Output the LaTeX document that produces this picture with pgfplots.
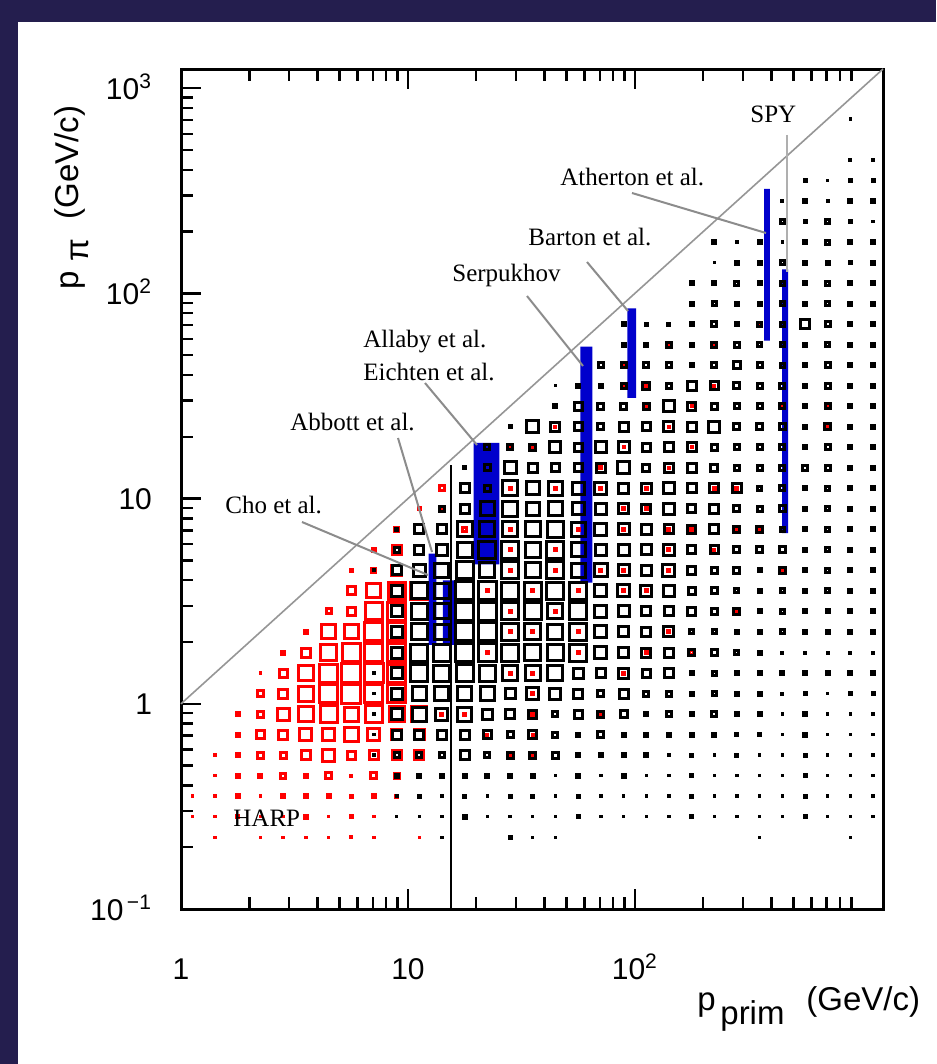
\documentclass[border=0pt]{standalone}
\usepackage{pgfplots}
\usepackage{pgfplotstable}
\pgfplotsset{compat=1.18}
\usepackage{fontspec}
\setmainfont{Liberation Sans}
\newfontfamily\tms{Liberation Serif}

\definecolor{frame}{RGB}{36,30,78}
\definecolor{harp}{RGB}{255,0,0}
\definecolor{expbar}{RGB}{0,0,204}
\definecolor{guide}{RGB}{140,140,140}
\definecolor{diag}{RGB}{150,150,150}

% 2D histograms: bin i covers 10^(i/10) .. 10^((i+1)/10) GeV/c in p_prim,
% bin j the same in p_pi; s = box side in px (0.5pt)
\pgfplotstableread[row sep=\\]{
i j s\\
29 28 3\\
29 26 4\\ 30 26 4\\
27 25 5\\ 28 25 3\\ 29 25 5\\ 30 25 5\\
26 24 4\\ 27 24 6\\ 28 24 4\\ 29 24 6\\ 30 24 6\\
26 23 7\\ 27 23 5\\ 28 23 7\\ 29 23 5\\ 30 23 3\\
23 22 6\\ 24 22 3\\ 25 22 6\\ 26 22 3\\ 27 22 6\\ 28 22 7\\ 29 22 6\\ 30 22 6\\
23 21 3\\ 24 21 6\\ 25 21 6\\ 26 21 7\\ 27 21 6\\ 28 21 6\\ 29 21 5\\ 30 21 6\\
22 20 6\\ 23 20 6\\ 24 20 7\\ 25 20 6\\ 26 20 7\\ 27 20 6\\ 28 20 7\\ 29 20 6\\ 30 20 6\\
22 19 6\\ 23 19 7\\ 24 19 6\\ 25 19 6\\ 26 19 7\\ 27 19 6\\ 28 19 7\\ 29 19 6\\ 30 19 6\\
19 18 6\\ 20 18 5\\ 21 18 5\\ 22 18 6\\ 23 18 8\\ 24 18 6\\ 25 18 7\\ 26 18 7\\ 27 18 12\\ 28 18 8\\ 29 18 6\\ 30 18 6\\
19 17 6\\ 20 17 6\\ 21 17 8\\ 22 17 6\\ 23 17 8\\ 24 17 8\\ 25 17 7\\ 26 17 7\\ 27 17 6\\ 28 17 7\\ 29 17 6\\ 30 17 6\\
18 16 8\\ 19 16 8\\ 20 16 8\\ 21 16 8\\ 22 16 6\\ 23 16 8\\ 24 16 10\\ 25 16 8\\ 26 16 7\\ 27 16 6\\ 28 16 8\\ 29 16 6\\ 30 16 6\\
16 15 3\\ 17 15 6\\ 18 15 6\\ 19 15 8\\ 20 15 10\\ 21 15 8\\ 22 15 12\\ 23 15 11\\ 24 15 9\\ 25 15 8\\ 26 15 8\\ 27 15 6\\ 28 15 8\\ 29 15 6\\ 30 15 6\\
16 14 6\\ 17 14 11\\ 18 14 9\\ 19 14 9\\ 20 14 9\\ 21 14 14\\ 22 14 11\\ 23 14 9\\ 24 14 8\\ 25 14 8\\ 26 14 8\\ 27 14 6\\ 28 14 8\\ 29 14 6\\ 30 14 6\\
14 13 5\\ 15 13 15\\ 16 13 12\\ 17 13 11\\ 18 13 9\\ 19 13 12\\ 20 13 11\\ 21 13 13\\ 22 13 12\\ 23 13 14\\ 24 13 9\\ 25 13 9\\ 26 13 9\\ 27 13 6\\ 28 13 9\\ 29 13 6\\ 30 13 6\\
13 12 8\\ 14 12 8\\ 15 12 9\\ 16 12 14\\ 17 12 11\\ 18 12 14\\ 19 12 14\\ 20 12 11\\ 21 12 12\\ 22 12 12\\ 23 12 9\\ 24 12 8\\ 25 12 8\\ 26 12 8\\ 27 12 6\\ 28 12 8\\ 29 12 6\\ 30 12 6\\
12 11 5\\ 13 11 9\\ 14 11 15\\ 15 11 12\\ 16 11 11\\ 17 11 11\\ 18 11 12\\ 19 11 15\\ 20 11 10\\ 21 11 12\\ 22 11 12\\ 23 11 10\\ 24 11 8\\ 25 11 8\\ 26 11 8\\ 27 11 8\\ 28 11 8\\ 29 11 6\\ 30 11 6\\
12 10 12\\ 13 10 9\\ 14 10 18\\ 15 10 16\\ 16 10 17\\ 17 10 15\\ 18 10 15\\ 19 10 13\\ 20 10 13\\ 21 10 14\\ 22 10 12\\ 23 10 12\\ 24 10 12\\ 25 10 7\\ 26 10 8\\ 27 10 6\\ 28 10 7\\ 29 10 6\\ 30 10 6\\
11 9 8\\ 12 9 12\\ 13 9 17\\ 14 9 18\\ 15 9 16\\ 16 9 17\\ 17 9 15\\ 18 9 14\\ 19 9 13\\ 20 9 12\\ 21 9 14\\ 22 9 11\\ 23 9 12\\ 24 9 9\\ 25 9 8\\ 26 9 9\\ 27 9 6\\ 28 9 7\\ 29 9 6\\ 30 9 6\\
9 8 5\\ 10 8 12\\ 11 8 12\\ 12 8 18\\ 13 8 18\\ 14 8 18\\ 15 8 18\\ 16 8 19\\ 17 8 17\\ 18 8 15\\ 19 8 14\\ 20 8 13\\ 21 8 12\\ 22 8 11\\ 23 8 12\\ 24 8 9\\ 25 8 9\\ 26 8 7\\ 27 8 6\\ 28 8 7\\ 29 8 6\\ 30 8 6\\
9 7 8\\ 10 7 12\\ 11 7 14\\ 12 7 18\\ 13 7 20\\ 14 7 20\\ 15 7 18\\ 16 7 20\\ 17 7 17\\ 18 7 14\\ 19 7 14\\ 20 7 13\\ 21 7 14\\ 22 7 11\\ 23 7 11\\ 24 7 9\\ 25 7 9\\ 26 7 9\\ 27 7 6\\ 28 7 7\\ 29 7 6\\ 30 7 6\\
8 6 4\\ 9 6 12\\ 10 6 15\\ 11 6 17\\ 12 6 20\\ 13 6 18\\ 14 6 20\\ 15 6 18\\ 16 6 20\\ 17 6 17\\ 18 6 16\\ 19 6 14\\ 20 6 13\\ 21 6 15\\ 22 6 11\\ 23 6 9\\ 24 6 9\\ 25 6 6\\ 26 6 9\\ 27 6 6\\ 28 6 7\\ 29 6 6\\ 30 6 6\\
9 5 14\\ 10 5 19\\ 11 5 18\\ 12 5 21\\ 13 5 21\\ 14 5 20\\ 15 5 20\\ 16 5 20\\ 17 5 20\\ 18 5 15\\ 19 5 15\\ 20 5 14\\ 21 5 14\\ 22 5 10\\ 23 5 9\\ 24 5 7\\ 25 5 6\\ 26 5 7\\ 27 5 6\\ 28 5 7\\ 29 5 6\\ 30 5 6\\
9 4 14\\ 10 4 19\\ 11 4 18\\ 12 4 21\\ 13 4 21\\ 14 4 20\\ 15 4 20\\ 16 4 18\\ 17 4 20\\ 18 4 15\\ 19 4 14\\ 20 4 12\\ 21 4 12\\ 22 4 11\\ 23 4 9\\ 24 4 9\\ 25 4 6\\ 26 4 7\\ 27 4 6\\ 28 4 6\\ 29 4 6\\ 30 4 6\\
9 3 14\\ 10 3 19\\ 11 3 18\\ 12 3 21\\ 13 3 21\\ 14 3 20\\ 15 3 19\\ 16 3 18\\ 17 3 20\\ 18 3 15\\ 19 3 13\\ 20 3 12\\ 21 3 13\\ 22 3 7\\ 23 3 7\\ 24 3 6\\ 25 3 6\\ 26 3 7\\ 27 3 6\\ 28 3 6\\ 29 3 6\\ 30 3 6\\
9 2 14\\ 10 2 20\\ 11 2 20\\ 12 2 21\\ 13 2 21\\ 14 2 20\\ 15 2 19\\ 16 2 19\\ 17 2 20\\ 18 2 15\\ 19 2 13\\ 20 2 12\\ 21 2 12\\ 22 2 9\\ 23 2 9\\ 24 2 7\\ 25 2 6\\ 26 2 4\\ 27 2 4\\ 28 2 4\\ 29 2 4\\ 30 2 4\\
8 1 3\\ 9 1 14\\ 10 1 20\\ 11 1 19\\ 12 1 20\\ 13 1 19\\ 14 1 18\\ 15 1 18\\ 16 1 18\\ 17 1 13\\ 18 1 12\\ 19 1 13\\ 20 1 11\\ 21 1 12\\ 22 1 6\\ 23 1 7\\ 24 1 6\\ 25 1 6\\ 26 1 6\\ 27 1 6\\ 28 1 6\\ 29 1 6\\ 30 1 6\\
8 0 3\\ 9 0 14\\ 10 0 17\\ 11 0 17\\ 12 0 17\\ 13 0 17\\ 14 0 13\\ 15 0 15\\ 16 0 14\\ 17 0 12\\ 18 0 9\\ 19 0 12\\ 20 0 8\\ 21 0 8\\ 22 0 6\\ 23 0 7\\ 24 0 6\\ 25 0 6\\ 26 0 4\\ 27 0 5\\ 28 0 3\\ 29 0 5\\ 30 0 5\\
8 -1 3\\ 9 -1 14\\ 10 -1 17\\ 11 -1 15\\ 12 -1 17\\ 13 -1 13\\ 14 -1 12\\ 15 -1 11\\ 16 -1 8\\ 17 -1 11\\ 18 -1 9\\ 19 -1 10\\ 20 -1 6\\ 21 -1 8\\ 22 -1 6\\ 23 -1 8\\ 24 -1 6\\ 25 -1 6\\ 26 -1 3\\ 27 -1 6\\ 28 -1 3\\ 29 -1 3\\ 30 -1 3\\
8 -2 3\\ 9 -2 12\\ 10 -2 12\\ 11 -2 12\\ 12 -2 12\\ 13 -2 11\\ 14 -2 9\\ 15 -2 11\\ 16 -2 8\\ 17 -2 6\\ 18 -2 9\\ 19 -2 6\\ 20 -2 6\\ 21 -2 6\\ 22 -2 6\\ 23 -2 6\\ 24 -2 5\\ 25 -2 5\\ 26 -2 3\\ 27 -2 6\\ 28 -2 3\\ 29 -2 3\\ 30 -2 3\\
8 -3 3\\ 9 -3 8\\ 10 -3 8\\ 11 -3 8\\ 12 -3 12\\ 13 -3 8\\ 14 -3 9\\ 15 -3 9\\ 16 -3 9\\ 17 -3 6\\ 18 -3 6\\ 19 -3 6\\ 20 -3 6\\ 21 -3 3\\ 22 -3 5\\ 23 -3 3\\ 24 -3 5\\ 25 -3 3\\ 26 -3 3\\ 27 -3 5\\ 28 -3 3\\ 29 -3 3\\ 30 -3 3\\
9 -4 6\\ 10 -4 6\\ 11 -4 6\\ 12 -4 6\\ 13 -4 6\\ 14 -4 6\\ 15 -4 6\\ 16 -4 3\\ 17 -4 6\\ 18 -4 3\\ 19 -4 6\\ 20 -4 3\\ 21 -4 3\\ 22 -4 5\\ 23 -4 3\\ 24 -4 3\\ 25 -4 3\\ 26 -4 3\\ 27 -4 5\\ 28 -4 3\\ 29 -4 3\\ 30 -4 3\\
9 -5 4\\ 10 -5 5\\ 11 -5 3\\ 12 -5 5\\ 13 -5 3\\ 14 -5 5\\ 15 -5 5\\ 16 -5 3\\ 17 -5 5\\ 18 -5 3\\ 19 -5 3\\ 20 -5 3\\ 21 -5 3\\ 22 -5 5\\ 23 -5 3\\ 24 -5 3\\ 25 -5 3\\ 26 -5 3\\ 27 -5 5\\ 28 -5 3\\ 29 -5 3\\ 30 -5 3\\
9 -6 3\\ 10 -6 3\\ 11 -6 3\\ 12 -6 6\\ 13 -6 3\\ 14 -6 3\\ 15 -6 3\\ 16 -6 3\\ 17 -6 5\\ 18 -6 3\\ 19 -6 3\\ 20 -6 3\\ 21 -6 3\\ 22 -6 5\\ 23 -6 3\\ 24 -6 3\\ 25 -6 3\\ 26 -6 3\\ 27 -6 5\\ 28 -6 3\\ 29 -6 3\\ 30 -6 3\\
11 -7 3\\ 14 -7 5\\ 15 -7 3\\ 16 -7 3\\ 25 -7 3\\ 29 -7 3\\
}\allbins

\pgfplotstableread[row sep=\\]{
i j s\\
11 10 8\\
10 9 5\\ 11 9 6\\
9 8 7\\
8 7 6\\ 9 7 12\\
7 6 5\\ 8 6 7\\ 9 6 13\\
7 5 11\\ 8 5 17\\ 9 5 20\\ 10 5 20\\
6 4 8\\ 7 4 11\\ 8 4 20\\ 9 4 21\\
5 3 6\\ 6 3 17\\ 7 3 17\\ 8 3 21\\ 9 3 21\\
4 2 6\\ 5 2 12\\ 6 2 19\\ 7 2 21\\ 8 2 21\\ 9 2 21\\
3 1 3\\ 4 1 11\\ 5 1 18\\ 6 1 21\\ 7 1 22\\ 8 1 22\\ 9 1 21\\
3 0 9\\ 4 0 12\\ 5 0 18\\ 6 0 21\\ 7 0 22\\ 8 0 21\\ 9 0 21\\
2 -1 6\\ 3 -1 9\\ 4 -1 15\\ 5 -1 18\\ 6 -1 20\\ 7 -1 17\\ 8 -1 20\\ 9 -1 18\\ 10 -1 18\\
2 -2 6\\ 3 -2 11\\ 4 -2 12\\ 5 -2 15\\ 6 -2 15\\ 7 -2 17\\ 8 -2 15\\ 9 -2 13\\ 10 -2 13\\
1 -3 2\\ 2 -3 6\\ 3 -3 9\\ 4 -3 9\\ 5 -3 12\\ 6 -3 15\\ 7 -3 11\\ 8 -3 12\\ 9 -3 12\\ 10 -3 12\\
1 -4 2\\ 2 -4 6\\ 3 -4 6\\ 4 -4 8\\ 5 -4 6\\ 6 -4 9\\ 7 -4 4\\ 8 -4 9\\ 9 -4 8\\
0 -5 3\\ 1 -5 2\\ 2 -5 6\\ 3 -5 3\\ 4 -5 6\\ 5 -5 6\\ 6 -5 6\\ 7 -5 5\\ 8 -5 6\\ 9 -5 5\\ 10 -5 5\\
0 -6 3\\ 1 -6 2\\ 2 -6 5\\ 3 -6 3\\ 4 -6 3\\ 5 -6 6\\ 6 -6 3\\ 7 -6 5\\ 8 -6 3\\ 11 -6 3\\
1 -7 2\\ 3 -7 3\\ 4 -7 3\\ 5 -7 3\\ 6 -7 3\\ 7 -7 4\\ 8 -7 3\\ 10 -7 3\\
25 18 4\\ 21 17 4\\ 23 17 4\\ 19 16 4\\
19 15 4\\ 20 15 4\\ 23 15 4\\
20 14 4\\ 22 14 4\\ 26 14 4\\ 28 14 4\\
16 13 4\\ 21 13 4\\ 28 13 4\\
14 12 4\\ 15 12 4\\ 19 12 4\\ 22 12 4\\
18 11 5\\ 21 11 4\\
14 10 5\\ 16 10 5\\ 18 10 5\\ 20 10 5\\ 23 10 5\\ 24 10 5\\
19 9 5\\ 20 9 5\\
12 8 7\\ 14 8 5\\ 17 8 5\\ 19 8 5\\ 21 8 5\\ 22 8 5\\ 24 8 4\\ 25 8 4\\
14 7 5\\ 16 7 5\\ 21 7 5\\ 23 7 4\\
14 6 5\\ 16 6 5\\ 18 6 5\\ 19 6 5\\ 21 6 5\\ 26 6 4\\
13 5 5\\ 15 5 5\\ 17 5 5\\ 19 5 5\\ 20 5 5\\
14 4 5\\ 16 4 5\\ 24 4 4\\
14 3 5\\ 15 3 5\\ 17 3 5\\ 21 3 5\\
13 2 5\\ 17 2 5\\ 20 2 5\\ 22 2 7\\
14 1 5\\ 15 1 5\\ 19 1 5\\
15 0 5\\
11 -1 5\\ 12 -1 5\\ 15 -1 5\\ 18 -1 4\\
13 -2 4\\ 15 -2 4\\
14 -3 3\\ 15 -3 3\\
}\harpbins

\pgfplotsset{
  binboxes/.style={
    scatter, only marks, mark=square, line width=1.5pt,
    point meta={\thisrow{s}},
    scatter/use mapped color={draw=#1},
    visualization depends on={max(\thisrow{s}-3,0.4)/4 \as \halfside},
    scatter/@pre marker code/.append style={/tikz/mark size=\halfside pt},
  },
}

\begin{document}
\begin{tikzpicture}
% page frame, drawn in pixel units measured from the top left corner
\begin{scope}[x=0.5pt,y=-0.5pt]
\fill[frame] (0,0) rectangle (936,1064);
\fill[white] (18,22) rectangle (936,1064);
\end{scope}

\begin{axis}[
  at={(90.5pt,-454.5pt)}, anchor=south west,
  scale only axis, width=351pt, height=420pt,
  xmode=log, ymode=log,
  xmin=1, xmax=1240, ymin=0.1, ymax=1240,
  axis line style={line width=1.5pt},
  tick style={black, line width=1.2pt},
  major tick length=10pt, minor tick length=6pt,
  xtick={1,10,100},
  xticklabels={1,10,10\textsuperscript{2}},
  minor xtick={2,3,4,5,6,7,8,9,20,30,40,50,60,70,80,90,200,300,400,500,600,700,800,900},
  ytick={0.1,1,10,100,1000},
  yticklabels={10\textsuperscript{\,−1},1,10,10\textsuperscript{2},10\textsuperscript{3}},
  minor ytick={0.2,0.3,0.4,0.5,0.6,0.7,0.8,0.9,2,3,4,5,6,7,8,9,20,30,40,50,60,70,80,90,200,300,400,500,600,700,800,900},
  xtick pos=both, ytick pos=left,
  tick align=inside,
  tick label style={font=\fontsize{15}{18}\selectfont},
  xticklabel style={anchor=base, yshift=-35pt},
  yticklabel style={anchor=base east, xshift=-11pt, yshift=-5.5pt},
  clip=false,
]
% measured ranges of the other experiments
\addplot[fill=expbar, draw=none] coordinates {(12.33,1.94) (13.35,1.94) (13.35,5.4) (12.33,5.4) (12.33,1.94)};
\addplot[fill=expbar, draw=none] coordinates {(14.26,1.94) (16.4,1.94) (16.4,4.0) (14.26,4.0) (14.26,1.94)};
\addplot[fill=expbar, draw=none] coordinates {(19.45,4.78) (25.3,4.78) (25.3,18.7) (19.45,18.7) (19.45,4.78)};
\addplot[fill=expbar, draw=none] coordinates {(57.5,3.9) (65.0,3.9) (65.0,55) (57.5,55) (57.5,3.9)};
\addplot[fill=expbar, draw=none] coordinates {(92.6,31) (101.4,31) (101.4,84.5) (92.6,84.5) (92.6,31)};
\addplot[fill=expbar, draw=none] coordinates {(371,58.9) (394,58.9) (394,323) (371,323) (371,58.9)};
\addplot[fill=expbar, draw=none] coordinates {(445,6.78) (473,6.78) (473,131) (445,131) (445,6.78)};

% HARP and all-experiment coverage
\addplot[binboxes=harp] table[x expr={10^((\thisrow{i}+0.5)/10)}, y expr={10^((\thisrow{j}+0.5)/10)}] {\harpbins};
\addplot[binboxes=black] table[x expr={10^((\thisrow{i}+0.5)/10)}, y expr={10^((\thisrow{j}+0.5)/10)}] {\allbins};

% kinematic limit and HARP beam boundary
\addplot[diag, line width=0.8pt] coordinates {(1,1) (1240,1240)};
\addplot[black, line width=1.3pt] coordinates {(15.5,0.1) (15.5,14.6)};
\end{axis}

\begin{scope}[x=0.5pt,y=-0.5pt]
% pointers to the experiments
\begin{scope}[guide, line width=1pt]
\draw (302,522) -- (428,575);
\draw (398,438) -- (432,552);
\draw (425,383) -- (477,445);
\draw (527,296) -- (583,366);
\draw (587,262) -- (628,311);
\draw (632,193) -- (766,233);
\end{scope}
\draw[color={rgb,255:red,175;green,175;blue,175}, line width=1.2pt] (787,135) -- (787,272);

\begin{scope}[every node/.style={inner sep=0pt, anchor=base west, font=\tms\fontsize{12.5}{14}\selectfont}]
\node at (225,513) {Cho et al.};
\node at (290,430) {Abbott et al.};
\node at (363,347) {Allaby et al.};
\node at (363,380) {Eichten et al.};
\node at (452,281) {Serpukhov};
\node at (528,245) {Barton et al.};
\node at (560,185) {Atherton et al.};
\node at (750,123) {SPY};
\node at (233,826) {HARP};
\end{scope}

% axis titles
\begin{scope}[every node/.style={inner sep=0pt, font=\fontsize{16.5}{20}\selectfont}]
\node[anchor=base west] at (697,1010) {p};
\node[anchor=base west] at (720,1024) {prim};
\node[anchor=base west] at (806,1010) {(GeV/c)};
\node[anchor=base west, rotate=90] at (78,290) {p};
\node[anchor=base west, rotate=90] at (88,262) {π};
\node[anchor=base west, rotate=90] at (78,220) {(GeV/c)};
\end{scope}
\end{scope}
\end{tikzpicture}
\end{document}
